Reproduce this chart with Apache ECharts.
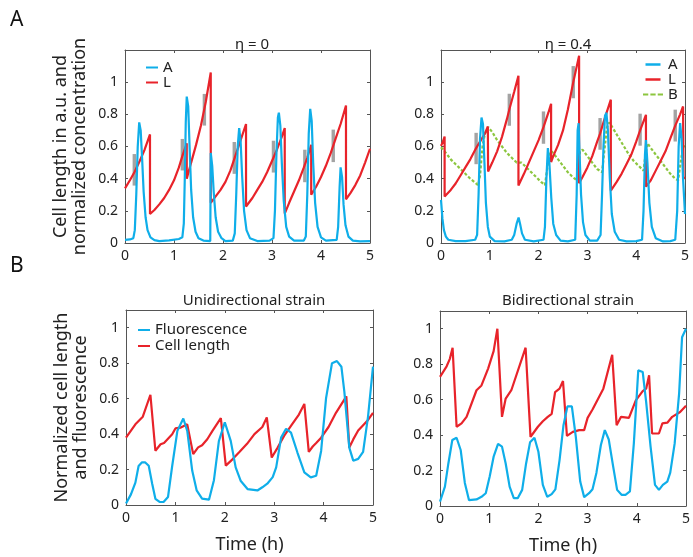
<!DOCTYPE html>
<html>
<head>
<meta charset="utf-8">
<script src="https://cdn.jsdelivr.net/npm/echarts@6/dist/echarts.min.js"></script>
<style>
  html, body { margin: 0; padding: 0; background: #fff; }
  #chart { width: 693px; height: 557px; }
</style>
</head>
<body>
<div id="chart"></div>
<script>
// ---- axis ticks ----
const timeTicks = [0, 1, 2, 3, 4, 5];
const yTickStep = 0.2;

// ---- panel A, eta = 0 ----
const activatorEta0 = [[0,0.02],[0.1,0.022],[0.17,0.03],[0.2,0.08],[0.23,0.3],[0.26,0.6],[0.29,0.75],[0.32,0.7],[0.35,0.52],[0.38,0.32],[0.42,0.16],[0.46,0.08],[0.52,0.035],[0.6,0.018],[0.7,0.012],[0.9,0.016],[1.1,0.025],[1.17,0.035],[1.2,0.12],[1.22,0.4],[1.24,0.75],[1.26,0.91],[1.29,0.85],[1.32,0.58],[1.35,0.33],[1.39,0.16],[1.44,0.07],[1.5,0.03],[1.6,0.015],[1.74,0.012],[1.75,0.56],[1.78,0.48],[1.81,0.32],[1.85,0.16],[1.9,0.07],[1.97,0.03],[2.05,0.012],[2.2,0.015],[2.24,0.06],[2.27,0.3],[2.3,0.6],[2.33,0.715],[2.36,0.63],[2.39,0.42],[2.43,0.2],[2.48,0.08],[2.55,0.03],[2.7,0.012],[2.95,0.015],[3.03,0.03],[3.06,0.2],[3.09,0.55],[3.12,0.78],[3.14,0.81],[3.17,0.73],[3.2,0.5],[3.24,0.26],[3.29,0.1],[3.35,0.04],[3.45,0.015],[3.65,0.015],[3.69,0.04],[3.72,0.3],[3.75,0.68],[3.78,0.834],[3.81,0.76],[3.84,0.5],[3.88,0.25],[3.93,0.1],[4.0,0.035],[4.1,0.015],[4.32,0.02],[4.35,0.1],[4.38,0.35],[4.4,0.47],[4.43,0.41],[4.46,0.24],[4.5,0.11],[4.56,0.04],[4.65,0.015],[4.8,0.01],[5.0,0.012]];
const lengthEta0 = [[0,0.34],[0.1,0.39],[0.2,0.445],[0.3,0.51],[0.4,0.58],[0.51,0.675],[0.51,0.18],[0.6,0.205],[0.7,0.24],[0.8,0.28],[0.9,0.33],[1.0,0.39],[1.1,0.47],[1.17,0.54],[1.26,0.62],[1.26,0.40],[1.35,0.50],[1.45,0.61],[1.55,0.73],[1.65,0.88],[1.75,1.06],[1.75,0.25],[1.85,0.29],[1.95,0.33],[2.05,0.38],[2.15,0.45],[2.25,0.54],[2.35,0.63],[2.47,0.74],[2.47,0.227],[2.6,0.28],[2.7,0.33],[2.8,0.38],[2.9,0.44],[3.0,0.51],[3.1,0.58],[3.2,0.66],[3.26,0.715],[3.26,0.183],[3.35,0.25],[3.45,0.32],[3.55,0.39],[3.65,0.47],[3.72,0.53],[3.8,0.611],[3.8,0.30],[3.9,0.35],[4.0,0.41],[4.1,0.48],[4.2,0.56],[4.3,0.65],[4.4,0.74],[4.51,0.855],[4.51,0.272],[4.6,0.31],[4.7,0.36],[4.8,0.42],[4.9,0.50],[5.0,0.586]];
// [time, low, high] of the length range bars
const rangeEta0 = [[0.19,0.357,0.553],[1.17,0.451,0.647],[1.62,0.73,0.927],[2.23,0.43,0.628],[3.03,0.438,0.636],[3.67,0.378,0.58],[4.25,0.503,0.705]];

// ---- panel A, eta = 0.4 ----
const activatorEta04 = [[0,0.268],[0.03,0.15],[0.06,0.08],[0.1,0.04],[0.15,0.02],[0.3,0.012],[0.5,0.012],[0.7,0.02],[0.74,0.05],[0.77,0.3],[0.8,0.65],[0.83,0.78],[0.86,0.74],[0.89,0.5],[0.92,0.25],[0.96,0.1],[1.0,0.04],[1.1,0.012],[1.3,0.01],[1.45,0.02],[1.5,0.05],[1.55,0.12],[1.59,0.158],[1.62,0.12],[1.66,0.06],[1.72,0.02],[1.9,0.01],[2.1,0.02],[2.13,0.1],[2.16,0.4],[2.19,0.59],[2.22,0.5],[2.26,0.28],[2.3,0.12],[2.36,0.05],[2.45,0.015],[2.6,0.01],[2.75,0.02],[2.78,0.3],[2.8,0.7],[2.82,0.745],[2.84,0.55],[2.87,0.3],[2.91,0.13],[2.96,0.05],[3.05,0.015],[3.2,0.015],[3.27,0.05],[3.3,0.3],[3.33,0.6],[3.36,0.79],[3.39,0.81],[3.42,0.7],[3.46,0.4],[3.5,0.18],[3.56,0.07],[3.65,0.02],[3.8,0.01],[4.0,0.012],[4.12,0.02],[4.15,0.2],[4.18,0.55],[4.2,0.64],[4.23,0.5],[4.27,0.25],[4.32,0.1],[4.4,0.03],[4.55,0.01],[4.7,0.012],[4.8,0.02],[4.84,0.2],[4.87,0.6],[4.9,0.745],[4.93,0.65],[4.96,0.4],[5.0,0.18]];
const lengthEta04 = [[0,0.604],[0.04,0.63],[0.074,0.662],[0.074,0.289],[0.2,0.33],[0.3,0.37],[0.4,0.42],[0.5,0.47],[0.6,0.52],[0.72,0.59],[0.8,0.63],[0.9,0.68],[0.96,0.725],[0.965,0.445],[1.05,0.50],[1.15,0.57],[1.25,0.66],[1.35,0.77],[1.4,0.83],[1.5,0.94],[1.587,1.04],[1.587,0.357],[1.7,0.43],[1.8,0.50],[1.9,0.57],[2.0,0.64],[2.1,0.72],[2.2,0.81],[2.256,0.866],[2.256,0.503],[2.3,0.54],[2.4,0.61],[2.5,0.70],[2.6,0.83],[2.71,1.0],[2.83,1.165],[2.83,0.372],[2.9,0.41],[3.0,0.47],[3.1,0.54],[3.2,0.63],[3.26,0.68],[3.35,0.77],[3.48,0.891],[3.48,0.326],[3.6,0.38],[3.7,0.43],[3.8,0.49],[3.9,0.55],[4.0,0.63],[4.08,0.70],[4.2,0.797],[4.2,0.35],[4.3,0.39],[4.4,0.45],[4.5,0.51],[4.6,0.57],[4.7,0.65],[4.8,0.73],[4.9,0.80],[4.96,0.849],[4.97,0.40],[5.0,0.41]];
const inhibitorEta04 = [[0,0.595],[0.1,0.56],[0.2,0.52],[0.3,0.49],[0.4,0.46],[0.5,0.43],[0.6,0.40],[0.7,0.375],[0.76,0.36],[0.8,0.42],[0.85,0.6],[0.9,0.68],[0.97,0.72],[1.05,0.69],[1.15,0.64],[1.25,0.60],[1.35,0.56],[1.45,0.53],[1.55,0.50],[1.65,0.50],[1.75,0.47],[1.85,0.44],[1.95,0.41],[2.05,0.38],[2.13,0.36],[2.18,0.47],[2.22,0.56],[2.27,0.57],[2.4,0.52],[2.5,0.48],[2.6,0.44],[2.7,0.41],[2.78,0.39],[2.81,0.48],[2.85,0.57],[2.9,0.58],[3.0,0.54],[3.1,0.50],[3.2,0.46],[3.3,0.44],[3.35,0.58],[3.4,0.72],[3.45,0.75],[3.55,0.70],[3.65,0.65],[3.75,0.60],[3.85,0.55],[3.95,0.51],[4.05,0.48],[4.15,0.45],[4.19,0.55],[4.23,0.62],[4.3,0.59],[4.4,0.55],[4.5,0.51],[4.6,0.47],[4.7,0.43],[4.8,0.40],[4.86,0.39],[4.9,0.48],[4.95,0.58],[5.0,0.62]];
const rangeEta04 = [[0.72,0.49,0.685],[1.40,0.729,0.928],[2.10,0.617,0.818],[2.71,0.90,1.10],[3.26,0.58,0.777],[4.08,0.605,0.804],[4.80,0.631,0.829]];

// ---- panel B, unidirectional strain ----
const fluorUni = [[0,0.008],[0.1,0.06],[0.19,0.126],[0.255,0.22],[0.32,0.24],[0.39,0.24],[0.46,0.221],[0.53,0.12],[0.595,0.035],[0.68,0.017],[0.76,0.017],[0.85,0.045],[0.935,0.22],[1.04,0.418],[1.16,0.488],[1.24,0.418],[1.34,0.194],[1.43,0.083],[1.54,0.036],[1.68,0.03],[1.78,0.14],[1.88,0.36],[2.0,0.467],[2.12,0.362],[2.22,0.212],[2.32,0.137],[2.46,0.09],[2.66,0.082],[2.76,0.1],[2.86,0.12],[2.97,0.157],[3.04,0.212],[3.14,0.38],[3.24,0.43],[3.34,0.408],[3.47,0.296],[3.61,0.184],[3.74,0.156],[3.85,0.165],[3.95,0.305],[4.05,0.603],[4.17,0.8],[4.27,0.812],[4.36,0.78],[4.42,0.64],[4.52,0.324],[4.6,0.25],[4.7,0.26],[4.8,0.3],[4.9,0.5],[5.0,0.78]];
const lengthUni = [[0,0.38],[0.19,0.455],[0.34,0.498],[0.494,0.622],[0.595,0.306],[0.70,0.343],[0.77,0.35],[0.935,0.399],[1.0,0.432],[1.10,0.436],[1.24,0.455],[1.36,0.287],[1.46,0.325],[1.54,0.337],[1.645,0.371],[1.75,0.418],[1.92,0.49],[2.02,0.222],[2.16,0.259],[2.3,0.30],[2.45,0.345],[2.6,0.40],[2.76,0.44],[2.85,0.494],[2.95,0.268],[3.07,0.324],[3.2,0.39],[3.35,0.45],[3.5,0.51],[3.61,0.57],[3.70,0.30],[3.78,0.33],[3.85,0.35],[3.95,0.38],[4.1,0.44],[4.25,0.52],[4.46,0.613],[4.52,0.324],[4.6,0.37],[4.7,0.42],[4.8,0.45],[4.9,0.48],[5.0,0.52]];

// ---- panel B, bidirectional strain ----
const fluorBi = [[0,0.025],[0.1,0.109],[0.17,0.24],[0.25,0.372],[0.337,0.385],[0.42,0.316],[0.505,0.13],[0.59,0.033],[0.742,0.037],[0.843,0.052],[0.93,0.072],[1.01,0.166],[1.09,0.278],[1.18,0.35],[1.26,0.335],[1.335,0.24],[1.415,0.109],[1.5,0.044],[1.58,0.044],[1.67,0.091],[1.75,0.24],[1.83,0.359],[1.92,0.385],[2.0,0.306],[2.09,0.119],[2.18,0.052],[2.27,0.067],[2.345,0.094],[2.43,0.259],[2.51,0.456],[2.59,0.562],[2.68,0.562],[2.76,0.391],[2.85,0.138],[2.93,0.05],[3.03,0.072],[3.1,0.094],[3.18,0.188],[3.27,0.344],[3.35,0.428],[3.43,0.375],[3.52,0.222],[3.6,0.091],[3.69,0.063],[3.77,0.063],[3.86,0.082],[3.94,0.353],[4.03,0.765],[4.12,0.756],[4.19,0.587],[4.28,0.335],[4.37,0.119],[4.45,0.091],[4.53,0.119],[4.62,0.138],[4.68,0.188],[4.77,0.353],[4.86,0.634],[4.92,0.952],[5.0,1.0]];
const lengthBi = [[0,0.728],[0.135,0.788],[0.2,0.83],[0.256,0.893],[0.337,0.447],[0.438,0.466],[0.54,0.503],[0.742,0.653],[0.843,0.68],[0.978,0.775],[1.09,0.874],[1.166,1.0],[1.26,0.503],[1.335,0.606],[1.45,0.653],[1.74,0.893],[1.84,0.39],[1.89,0.409],[1.99,0.447],[2.09,0.478],[2.19,0.503],[2.27,0.52],[2.34,0.643],[2.43,0.662],[2.5,0.705],[2.58,0.396],[2.70,0.418],[2.83,0.428],[2.93,0.428],[3.0,0.497],[3.1,0.544],[3.32,0.662],[3.50,0.853],[3.59,0.456],[3.68,0.503],[3.84,0.497],[3.98,0.596],[4.12,0.648],[4.19,0.662],[4.25,0.737],[4.31,0.409],[4.45,0.409],[4.52,0.466],[4.62,0.47],[4.72,0.503],[4.88,0.53],[5.0,0.566]];

// ---- look ----
const BLUE = '#0faee9';
const RED = '#e8232a';
const GREEN = '#8cc63f';
const GRAY = '#a3a3a3';
const AXIS = '#555555';
const FONT = 'Noto Sans';
const SOLID_ICON = 'path://M0,0H12V2H0Z';
const DASH_ICON = 'path://M0,0H5V2H0Z M7,0H12V2H7Z M14,0H19V2H14Z';

const grids = [
  { left: 125, top: 50, width: 245, height: 193 },
  { left: 441, top: 50, width: 244, height: 193 },
  { left: 126, top: 310, width: 247, height: 195 },
  { left: 440, top: 311, width: 247, height: 195 }
];
const yMax = [1.2, 1.2, 1.1, 1.1];

const xAxes = [];
const yAxes = [];
grids.forEach((g, i) => {
  const tickCommon = { show: true, inside: true, length: 3, lineStyle: { color: AXIS } };
  xAxes.push({
    type: 'value', gridIndex: i, min: timeTicks[0], max: timeTicks[timeTicks.length - 1],
    interval: timeTicks[1] - timeTicks[0], position: 'bottom',
    axisLine: { show: true, onZero: false, lineStyle: { color: AXIS, width: 1 } },
    axisTick: tickCommon, splitLine: { show: false },
    axisLabel: { color: '#222', fontSize: 14, fontFamily: FONT, margin: 6 },
    name: i >= 2 ? 'Time (h)' : '', nameLocation: 'middle', nameGap: 31,
    nameTextStyle: { color: '#222', fontSize: 18, fontFamily: FONT }
  });
  xAxes.push({
    type: 'value', gridIndex: i, min: 0, max: 5, interval: 1, position: 'top',
    axisLine: { show: true, onZero: false, lineStyle: { color: AXIS, width: 1 } },
    axisTick: tickCommon, axisLabel: { show: false }, splitLine: { show: false }
  });
  const yName = i === 0 ? 'Cell length in a.u. and\nnormalized concentration'
              : i === 2 ? 'Normalized cell length\nand fluorescence' : '';
  yAxes.push({
    type: 'value', gridIndex: i, min: 0, max: yMax[i], interval: yTickStep, position: 'left',
    axisLine: { show: true, onZero: false, lineStyle: { color: AXIS, width: 1 } },
    axisTick: tickCommon, splitLine: { show: false },
    axisLabel: { color: '#222', fontSize: 14, fontFamily: FONT, margin: 7, showMaxLabel: false,
      formatter: v => (Math.round(v * 10) / 10).toString() },
    name: yName, nameLocation: 'middle', nameRotate: 90, nameGap: 36,
    nameTextStyle: { color: '#222', fontSize: 18, fontFamily: FONT, lineHeight: 19, align: 'center' }
  });
  yAxes.push({
    type: 'value', gridIndex: i, min: 0, max: yMax[i], interval: yTickStep, position: 'right',
    axisLine: { show: true, onZero: false, lineStyle: { color: AXIS, width: 1 } },
    axisTick: tickCommon, axisLabel: { show: false }, splitLine: { show: false }
  });
});

function rangeBars(data, gi) {
  return {
    type: 'custom', xAxisIndex: gi * 2, yAxisIndex: gi * 2, z: 1, silent: true,
    data: data,
    renderItem: (params, api) => {
      const hi = api.coord([api.value(0), api.value(2)]);
      const lo = api.coord([api.value(0), api.value(1)]);
      return { type: 'rect', shape: { x: hi[0] - 1.7, y: hi[1], width: 3.4, height: lo[1] - hi[1] },
               style: { fill: GRAY } };
    }
  };
}
function curve(name, data, gi, color, extra) {
  return Object.assign({
    type: 'line', name: name, data: data, xAxisIndex: gi * 2, yAxisIndex: gi * 2,
    showSymbol: false, symbol: 'none', smooth: false, animation: false,
    lineStyle: { color: color, width: 2.2 }, itemStyle: { color: color }, z: 3
  }, extra || {});
}

const legendText = { color: '#222', fontSize: 15, fontFamily: FONT };
function legendItem(name, icon) { return { name: name, icon: icon || SOLID_ICON }; }
const option = {
  animation: false,
  grid: grids.map(g => Object.assign({ containLabel: false }, g)),
  xAxis: xAxes,
  yAxis: yAxes,
  title: [
    { text: 'η = 0', left: 247, top: 32, textAlign: 'center', textStyle: { fontSize: 15, fontWeight: 'normal', color: '#222', fontFamily: FONT } },
    { text: 'η = 0.4', left: 563, top: 32, textAlign: 'center', textStyle: { fontSize: 15, fontWeight: 'normal', color: '#222', fontFamily: FONT } },
    { text: 'Unidirectional strain', left: 249, top: 288, textAlign: 'center', textStyle: { fontSize: 15, fontWeight: 'normal', color: '#222', fontFamily: FONT } },
    { text: 'Bidirectional strain', left: 563, top: 288, textAlign: 'center', textStyle: { fontSize: 15, fontWeight: 'normal', color: '#222', fontFamily: FONT } }
  ],
  legend: [
    { data: [legendItem('A'), legendItem('L')], left: 146, top: 60, orient: 'vertical',
      itemWidth: 12, itemHeight: 2.5, itemGap: 0, padding: 0, textStyle: Object.assign({ lineHeight: 15 }, legendText) },
    { data: [legendItem('A '), legendItem('L '), legendItem('B', DASH_ICON)], left: 643, top: 57, orient: 'vertical',
      itemWidth: 20, itemHeight: 2.5, itemGap: 0, padding: 0, textStyle: Object.assign({ lineHeight: 14 }, legendText) },
    { data: [legendItem('Fluorescence'), legendItem('Cell length')], left: 138, top: 322, orient: 'vertical',
      itemWidth: 12, itemHeight: 2.5, itemGap: 0, padding: 0, textStyle: Object.assign({ lineHeight: 16 }, legendText) }
  ],
  graphic: [
    { type: 'text', left: 10, top: 10, style: { text: 'A', fontSize: 21, fill: '#111', fontFamily: FONT } },
    { type: 'text', left: 10, top: 256, style: { text: 'B', fontSize: 21, fill: '#111', fontFamily: FONT } }
  ],
  series: [
    rangeBars(rangeEta0, 0),
    curve('L', lengthEta0, 0, RED),
    curve('A', activatorEta0, 0, BLUE),
    rangeBars(rangeEta04, 1),
    curve('B', inhibitorEta04, 1, GREEN, { lineStyle: { color: GREEN, width: 2.2, type: [3, 2] } }),
    curve('L ', lengthEta04, 1, RED),
    curve('A ', activatorEta04, 1, BLUE),
    curve('Cell length', lengthUni, 2, RED),
    curve('Fluorescence', fluorUni, 2, BLUE),
    curve('Cell length ', lengthBi, 3, RED),
    curve('Fluorescence ', fluorBi, 3, BLUE)
  ]
};

const chart = echarts.init(document.getElementById('chart'), null, { renderer: 'canvas' });
chart.setOption(option);
</script>
</body>
</html>
